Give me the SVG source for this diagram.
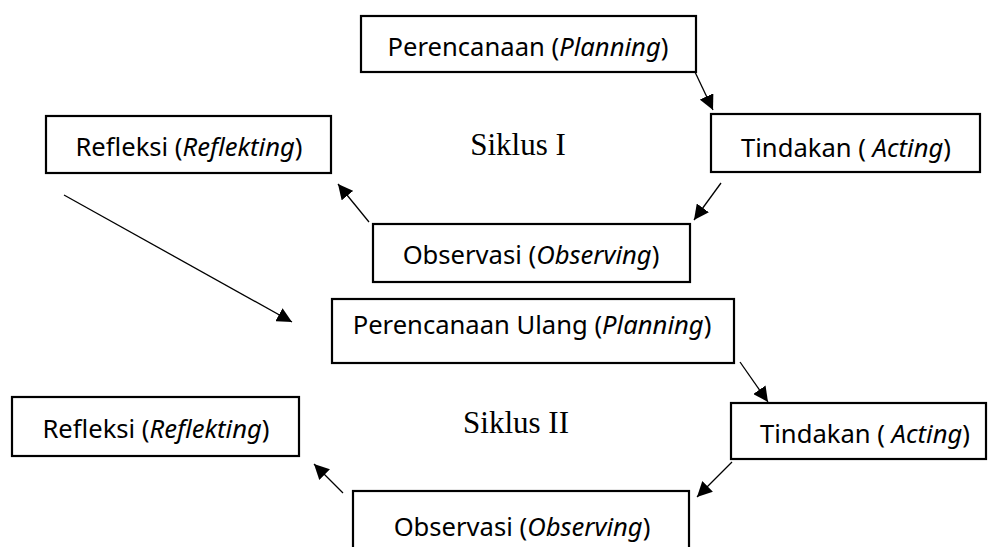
<svg xmlns="http://www.w3.org/2000/svg" width="989" height="547" viewBox="0 0 989 547">
<style>
.box{fill:#fff;stroke:#000;stroke-width:2.2}
.lbl{font-family:"Noto Sans","Open Sans",sans-serif;font-size:25.6px;fill:#000}
.it{font-style:italic}
.cyc{font-family:"Liberation Serif","Times New Roman",serif;font-size:31px;fill:#000}
.con{stroke:#000;stroke-width:1.3;fill:none;marker-end:url(#ah)}
</style>
<defs>
<marker id="ah" viewBox="0 0 10 10" refX="10" refY="5" markerWidth="15" markerHeight="15" markerUnits="userSpaceOnUse" orient="auto">
<path d="M0,0 L10,5 L0,10 z" fill="#000"/>
</marker>
</defs>
<rect width="989" height="547" fill="#fff"/>
<g id="connectors">
<line class="con" x1="695" y1="72" x2="713" y2="110"/>
<line class="con" x1="721" y1="183" x2="694" y2="220"/>
<line class="con" x1="369" y1="222" x2="338" y2="184"/>
<line class="con" x1="64" y1="195" x2="292" y2="322"/>
<line class="con" x1="740" y1="362" x2="768" y2="402"/>
<line class="con" x1="732" y1="462" x2="697" y2="497"/>
<line class="con" x1="343" y1="493" x2="314" y2="464"/>
</g>
<g id="perencanaan1">
<rect class="box" x="361" y="16" width="335" height="56"/>
<text class="lbl" x="528" y="56" text-anchor="middle">Perencanaan (<tspan class="it">Planning</tspan>)</text>
</g>
<g id="refleksi1">
<rect class="box" x="46" y="116" width="285" height="57"/>
<text class="lbl" x="189" y="156" text-anchor="middle">Refleksi (<tspan class="it">Reflekting</tspan>)</text>
</g>
<g id="siklus1">
<text class="cyc" x="518" y="155" text-anchor="middle">Siklus I</text>
</g>
<g id="tindakan1">
<rect class="box" x="711" y="114" width="269" height="58"/>
<text class="lbl" x="846" y="157" text-anchor="middle">Tindakan ( <tspan class="it">Acting</tspan>)</text>
</g>
<g id="observasi1">
<rect class="box" x="373" y="224" width="317" height="58"/>
<text class="lbl" x="531" y="264" text-anchor="middle">Observasi (<tspan class="it">Observing</tspan>)</text>
</g>
<g id="perencanaan2">
<rect class="box" x="332" y="299" width="402" height="64"/>
<text class="lbl" x="532" y="334" text-anchor="middle">Perencanaan Ulang (<tspan class="it">Planning</tspan>)</text>
</g>
<g id="siklus2">
<text class="cyc" x="516" y="433" text-anchor="middle">Siklus II</text>
</g>
<g id="refleksi2">
<rect class="box" x="12" y="397" width="287" height="59"/>
<text class="lbl" x="156" y="438" text-anchor="middle">Refleksi (<tspan class="it">Reflekting</tspan>)</text>
</g>
<g id="tindakan2">
<rect class="box" x="731" y="403" width="255" height="56"/>
<text class="lbl" x="865" y="443" text-anchor="middle">Tindakan ( <tspan class="it">Acting</tspan>)</text>
</g>
<g id="observasi2">
<rect class="box" x="353" y="491" width="336" height="70"/>
<text class="lbl" x="522" y="536" text-anchor="middle">Observasi (<tspan class="it">Observing</tspan>)</text>
</g>
</svg>
